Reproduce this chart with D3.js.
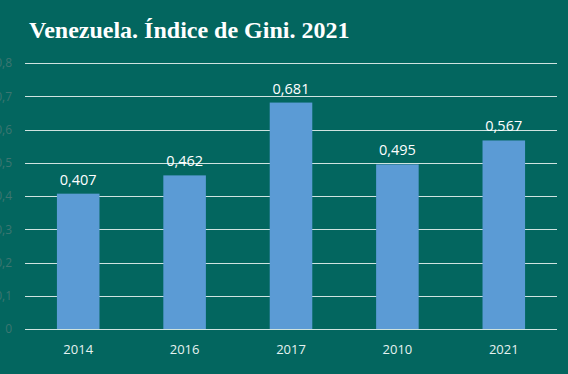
<!DOCTYPE html>
<html>
<head>
<meta charset="utf-8">
<script src="https://cdn.jsdelivr.net/npm/d3@7"></script>
<style>
  html, body { margin: 0; padding: 0; background: #03665f; }
  svg { display: block; }
</style>
</head>
<body>
<svg id="chart"></svg>
<script>
// Chart data
const years = ["2014", "2016", "2017", "2010", "2021"];
const gini = [0.407, 0.462, 0.681, 0.495, 0.567];
const yTicks = [0, 0.1, 0.2, 0.3, 0.4, 0.5, 0.6, 0.7, 0.8];
const titleText = "Venezuela. Índice de Gini. 2021";

const W = 568, H = 374;
const margin = { top: 63, right: 11, bottom: 45, left: 25 };
const width = W - margin.left - margin.right;
const height = H - margin.top - margin.bottom;

const root = d3.select("#chart").attr("width", W).attr("height", H);

root.append("rect").attr("width", W).attr("height", H).attr("fill", "#03665f");

root.append("text")
  .attr("x", 29)
  .attr("y", 38)
  .attr("fill", "#ffffff")
  .attr("font-family", "'Liberation Serif', 'Times New Roman', serif")
  .attr("font-weight", "bold")
  .attr("font-size", 24)
  .text(titleText);

const svg = root.append("g").attr("transform", `translate(${margin.left},${margin.top})`);

const x = d3.scaleBand().domain(years).range([0, width]).paddingInner(0.6).paddingOuter(0.3);
const y = d3.scaleLinear().domain([0, 0.8]).range([height, 0]);

const fmt = (v) => d3.format(".1f")(v).replace(".", ",");

// gridlines
svg.selectAll(".grid")
  .data(yTicks)
  .enter()
  .append("line")
  .attr("x1", 0)
  .attr("x2", width)
  .attr("y1", (d) => Math.round(y(d)) + 0.5)
  .attr("y2", (d) => Math.round(y(d)) + 0.5)
  .attr("stroke", "#cfe3e0")
  .attr("stroke-width", 1.2);

// y axis labels (faint, clipped at left edge)
const yAxis = svg.append("g")
  .attr("transform", "translate(-13,0)")
  .call(d3.axisLeft(y).tickValues(yTicks).tickSize(0).tickPadding(0)
    .tickFormat((d) => d === 0 ? "0" : fmt(d)));
yAxis.select(".domain").remove();
yAxis.selectAll("text")
  .attr("fill", "#3d7671")
  .attr("font-family", "'Open Sans', sans-serif")
  .attr("font-size", 12);

// bars
svg.selectAll(".bar")
  .data(gini)
  .enter()
  .append("rect")
  .attr("class", "bar")
  .attr("x", (d, i) => x(years[i]))
  .attr("y", (d) => y(d))
  .attr("width", x.bandwidth())
  .attr("height", (d) => height - y(d))
  .attr("fill", "#5b9bd5");

// value labels
svg.selectAll(".val")
  .data(gini)
  .enter()
  .append("text")
  .attr("x", (d, i) => x(years[i]) + x.bandwidth() / 2)
  .attr("y", (d) => y(d) - 9)
  .attr("text-anchor", "middle")
  .attr("fill", "#ffffff")
  .attr("font-family", "'Open Sans', sans-serif")
  .attr("font-size", 14.5)
  .text((d) => String(d).replace(".", ","));

// x axis
const xAxis = svg.append("g")
  .attr("transform", `translate(0,${height})`)
  .call(d3.axisBottom(x).tickSize(0).tickPadding(16));
xAxis.select(".domain").remove();
xAxis.selectAll("text")
  .attr("fill", "#e6f2f0")
  .attr("font-family", "'Open Sans', sans-serif")
  .attr("font-size", 13);
</script>
</body>
</html>
